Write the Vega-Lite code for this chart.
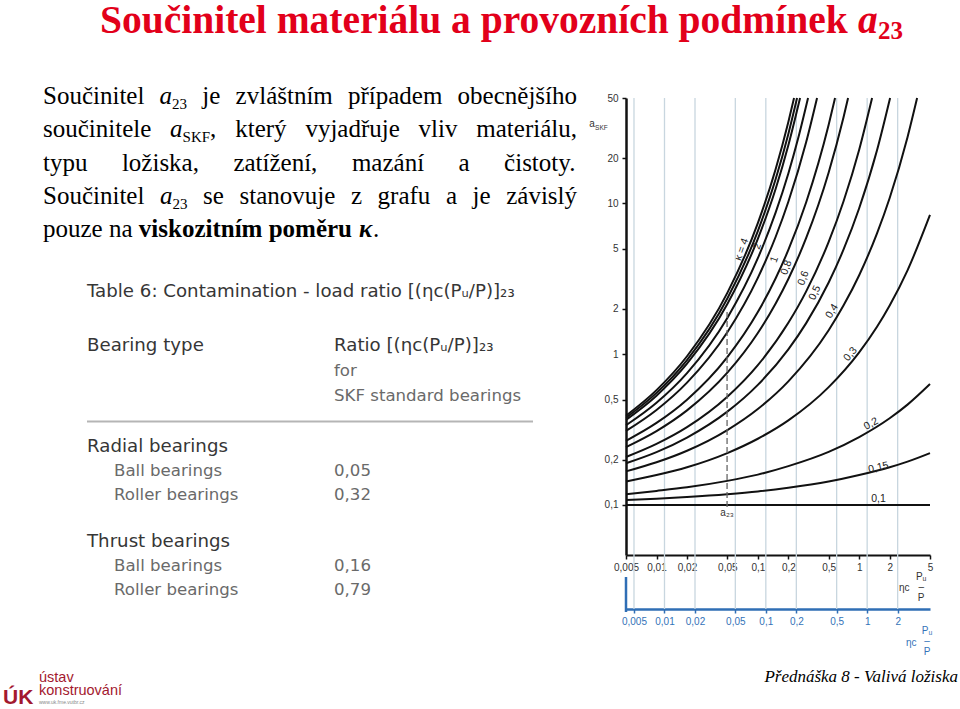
{
  "$schema": "https://vega.github.io/schema/vega-lite/v6.json",
  "width": 960,
  "height": 709,
  "autosize": {"type": "none"},
  "padding": 0,
  "background": "#ffffff",
  "config": {"view": {"stroke": null}, "font": "Liberation Sans"},
  "datasets": {
    "title": [
      {"p": 0, "r": 0, "role": "txt", "text": "Součinitel materiálu a provozních podmínek"},
      {"p": 1, "r": 0, "role": "var", "text": "a"},
      {"p": 2, "r": 0, "role": "sub", "text": "23"}
    ],
    "para": [
      {"line": 1, "p": 10, "role": "txt", "text": "Součinitel"},
      {"line": 1, "p": 11, "role": "var", "text": "a"},
      {"line": 1, "p": 12, "role": "sub", "text": "23"},
      {"line": 1, "p": 13, "role": "txt", "text": "je"},
      {"line": 1, "p": 14, "role": "txt", "text": "zvláštním"},
      {"line": 1, "p": 15, "role": "txt", "text": "případem"},
      {"line": 1, "p": 16, "role": "txt", "text": "obecnějšího"},
      {"line": 2, "p": 20, "role": "txt", "text": "součinitele"},
      {"line": 2, "p": 21, "role": "var", "text": "a"},
      {"line": 2, "p": 22, "role": "sub", "text": "SKF"},
      {"line": 2, "p": 23, "role": "txt", "text": ","},
      {"line": 2, "p": 24, "role": "txt", "text": "který"},
      {"line": 2, "p": 25, "role": "txt", "text": "vyjadřuje"},
      {"line": 2, "p": 26, "role": "txt", "text": "vliv"},
      {"line": 2, "p": 27, "role": "txt", "text": "materiálu,"},
      {"line": 3, "p": 30, "role": "txt", "text": "typu"},
      {"line": 3, "p": 31, "role": "txt", "text": "ložiska,"},
      {"line": 3, "p": 32, "role": "txt", "text": "zatížení,"},
      {"line": 3, "p": 33, "role": "txt", "text": "mazání"},
      {"line": 3, "p": 34, "role": "txt", "text": "a"},
      {"line": 3, "p": 35, "role": "txt", "text": "čistoty."},
      {"line": 4, "p": 40, "role": "txt", "text": "Součinitel"},
      {"line": 4, "p": 41, "role": "var", "text": "a"},
      {"line": 4, "p": 42, "role": "sub", "text": "23"},
      {"line": 4, "p": 43, "role": "txt", "text": "se"},
      {"line": 4, "p": 44, "role": "txt", "text": "stanovuje"},
      {"line": 4, "p": 45, "role": "txt", "text": "z"},
      {"line": 4, "p": 46, "role": "txt", "text": "grafu"},
      {"line": 4, "p": 47, "role": "txt", "text": "a"},
      {"line": 4, "p": 48, "role": "txt", "text": "je"},
      {"line": 4, "p": 49, "role": "txt", "text": "závislý"},
      {"line": 5, "p": 50, "role": "txt", "text": "pouze na"},
      {"line": 5, "p": 51, "role": "em", "text": "viskozitním poměru"},
      {"line": 5, "p": 52, "role": "emvar", "text": "κ"},
      {"line": 5, "p": 53, "role": "txt", "text": "."}
    ],
    "table": [
      {"r": 0, "c": 0, "role": "title", "text": "Table 6: Contamination - load ratio [(ηc(Pᵤ/P)]₂₃"},
      {"r": 1, "c": 0, "role": "head", "text": "Bearing type"},
      {"r": 1, "c": 2, "role": "head", "text": "Ratio [(ηc(Pᵤ/P)]₂₃"},
      {"r": 2, "c": 2, "role": "item", "text": "for"},
      {"r": 3, "c": 2, "role": "item", "text": "SKF standard bearings"},
      {"r": 4, "c": 0, "role": "head", "text": "Radial bearings"},
      {"r": 5, "c": 1, "role": "item", "text": "Ball bearings"},
      {"r": 5, "c": 2, "role": "item", "text": "0,05"},
      {"r": 6, "c": 1, "role": "item", "text": "Roller bearings"},
      {"r": 6, "c": 2, "role": "item", "text": "0,32"},
      {"r": 8, "c": 0, "role": "head", "text": "Thrust bearings"},
      {"r": 9, "c": 1, "role": "item", "text": "Ball bearings"},
      {"r": 9, "c": 2, "role": "item", "text": "0,16"},
      {"r": 10, "c": 1, "role": "item", "text": "Roller bearings"},
      {"r": 10, "c": 2, "role": "item", "text": "0,79"}
    ],
    "footer": [
      {"part": "mark", "c": 0, "r": 2, "text": "ÚK"},
      {"part": "name", "c": 1, "r": 0, "text": "ústav"},
      {"part": "name", "c": 1, "r": 1, "text": "konstruování"},
      {"part": "url", "c": 1, "r": 2, "text": "www.uk.fme.vutbr.cz"},
      {"part": "lecture", "c": 2, "r": 0, "text": "Přednáška 8 - Valivá ložiska"}
    ],
    "bgrid": [{"v": 0.005}, {"v": 0.01}, {"v": 0.02}, {"v": 0.05}, {"v": 0.1}, {"v": 0.2}, {"v": 0.5}, {"v": 1}, {"v": 2}],
    "bstub": [{"v": 0.00417}],
    "dash": [{"x": 0.0497, "a": 0.097, "a2": 1.97}],
    "klab": [
      {"lab": "κ = 4", "k": 4, "x": 0.0695, "a": 4.95},
      {"lab": "2", "k": 2, "x": 0.099, "a": 5.2},
      {"lab": "1", "k": 1, "x": 0.146, "a": 4.25},
      {"lab": "0,8", "k": 0.8, "x": 0.191, "a": 3.75},
      {"lab": "0,6", "k": 0.6, "x": 0.281, "a": 3.2},
      {"lab": "0,5", "k": 0.5, "x": 0.366, "a": 2.55},
      {"lab": "0,4", "k": 0.4, "x": 0.54, "a": 1.93},
      {"lab": "0,3", "k": 0.3, "x": 0.82, "a": 1.0},
      {"lab": "0,2", "k": 0.2, "x": 1.31, "a": 0.345},
      {"lab": "0,15", "k": 0.15, "x": 1.55, "a": 0.177},
      {"lab": "0,1", "k": 0.1, "x": 1.55, "a": 0.109}
    ],
    "annot": [
      {"t": "ηc", "g": "black", "x": 2.78, "a": 0.02816},
      {"t": "Pᵤ", "g": "black", "x": 4.09, "a": 0.0332},
      {"t": "–", "g": "black", "x": 4.09, "a": 0.0286},
      {"t": "P", "g": "black", "x": 4.09, "a": 0.0243},
      {"t": "ηc", "g": "blue", "x": 3.26, "a": 0.01215},
      {"t": "Pᵤ", "g": "blue", "x": 4.68, "a": 0.0146},
      {"t": "–", "g": "blue", "x": 4.68, "a": 0.01245},
      {"t": "P", "g": "blue", "x": 4.68, "a": 0.01065},
      {"t": "a", "g": "black", "x": 0.00231, "a": 33.6},
      {"t": "a₂₃", "g": "black", "x": 0.0497, "a": 0.0885}
    ],
    "annotS": [{"t": "SKF", "x": 0.00286, "a": 31.6}],
    "curves": [
      {"k": "c1", "x": 0.005, "a": 0.391}, {"k": "c1", "x": 0.01, "a": 0.578}, {"k": "c1", "x": 0.02, "a": 0.969}, {"k": "c1", "x": 0.05, "a": 2.549}, {"k": "c1", "x": 0.1, "a": 7.4}, {"k": "c1", "x": 0.15, "a": 16.9}, {"k": "c1", "x": 0.2, "a": 34.7}, {"k": "c1", "x": 0.2277, "a": 50},
      {"k": "c2", "x": 0.005, "a": 0.379}, {"k": "c2", "x": 0.01, "a": 0.554}, {"k": "c2", "x": 0.02, "a": 0.915}, {"k": "c2", "x": 0.05, "a": 2.338}, {"k": "c2", "x": 0.1, "a": 6.55}, {"k": "c2", "x": 0.15, "a": 14.5}, {"k": "c2", "x": 0.2, "a": 28.9}, {"k": "c2", "x": 0.2438, "a": 50},
      {"k": "c3", "x": 0.005, "a": 0.367}, {"k": "c3", "x": 0.01, "a": 0.531}, {"k": "c3", "x": 0.02, "a": 0.865}, {"k": "c3", "x": 0.05, "a": 2.149}, {"k": "c3", "x": 0.1, "a": 5.82}, {"k": "c3", "x": 0.15, "a": 12.5}, {"k": "c3", "x": 0.2, "a": 24.3}, {"k": "c3", "x": 0.261, "a": 50},
      {"k": "c4", "x": 0.005, "a": 0.338}, {"k": "c4", "x": 0.01, "a": 0.477}, {"k": "c4", "x": 0.02, "a": 0.75}, {"k": "c4", "x": 0.05, "a": 1.74}, {"k": "c4", "x": 0.1, "a": 4.33}, {"k": "c4", "x": 0.15, "a": 8.71}, {"k": "c4", "x": 0.2, "a": 15.8}, {"k": "c4", "x": 0.25, "a": 27.0}, {"k": "c4", "x": 0.313, "a": 50},
      {"k": "c5", "x": 0.005, "a": 0.31}, {"k": "c5", "x": 0.01, "a": 0.427}, {"k": "c5", "x": 0.02, "a": 0.648}, {"k": "c5", "x": 0.05, "a": 1.399}, {"k": "c5", "x": 0.1, "a": 3.21}, {"k": "c5", "x": 0.15, "a": 6.01}, {"k": "c5", "x": 0.2, "a": 10.25}, {"k": "c5", "x": 0.3, "a": 25.5}, {"k": "c5", "x": 0.384, "a": 50},
      {"k": "c6", "x": 0.005, "a": 0.2665}, {"k": "c6", "x": 0.01, "a": 0.35}, {"k": "c6", "x": 0.02, "a": 0.499}, {"k": "c6", "x": 0.05, "a": 0.956}, {"k": "c6", "x": 0.1, "a": 1.903}, {"k": "c6", "x": 0.15, "a": 3.19}, {"k": "c6", "x": 0.2, "a": 4.91}, {"k": "c6", "x": 0.3, "a": 10.17}, {"k": "c6", "x": 0.5, "a": 33.2}, {"k": "c6", "x": 0.578, "a": 50},
      {"k": "c7", "x": 0.005, "a": 0.242}, {"k": "c7", "x": 0.01, "a": 0.309}, {"k": "c7", "x": 0.02, "a": 0.424}, {"k": "c7", "x": 0.05, "a": 0.754}, {"k": "c7", "x": 0.1, "a": 1.383}, {"k": "c7", "x": 0.15, "a": 2.17}, {"k": "c7", "x": 0.2, "a": 3.154}, {"k": "c7", "x": 0.3, "a": 5.9}, {"k": "c7", "x": 0.5, "a": 16.05}, {"k": "c7", "x": 0.7, "a": 37.1}, {"k": "c7", "x": 0.777, "a": 50},
      {"k": "c8", "x": 0.005, "a": 0.208}, {"k": "c8", "x": 0.01, "a": 0.254}, {"k": "c8", "x": 0.02, "a": 0.328}, {"k": "c8", "x": 0.05, "a": 0.522}, {"k": "c8", "x": 0.1, "a": 0.846}, {"k": "c8", "x": 0.2, "a": 1.614}, {"k": "c8", "x": 0.3, "a": 2.61}, {"k": "c8", "x": 0.5, "a": 5.56}, {"k": "c8", "x": 0.7, "a": 10.3}, {"k": "c8", "x": 1, "a": 22.7}, {"k": "c8", "x": 1.341, "a": 50},
      {"k": "c9", "x": 0.005, "a": 0.189}, {"k": "c9", "x": 0.01, "a": 0.224}, {"k": "c9", "x": 0.02, "a": 0.28}, {"k": "c9", "x": 0.05, "a": 0.416}, {"k": "c9", "x": 0.1, "a": 0.626}, {"k": "c9", "x": 0.2, "a": 1.077}, {"k": "c9", "x": 0.3, "a": 1.607}, {"k": "c9", "x": 0.5, "a": 2.99}, {"k": "c9", "x": 0.7, "a": 4.93}, {"k": "c9", "x": 1, "a": 9.29}, {"k": "c9", "x": 1.5, "a": 22.5}, {"k": "c9", "x": 2.019, "a": 50},
      {"k": "c10", "x": 0.005, "a": 0.167}, {"k": "c10", "x": 0.01, "a": 0.192}, {"k": "c10", "x": 0.02, "a": 0.229}, {"k": "c10", "x": 0.05, "a": 0.314}, {"k": "c10", "x": 0.1, "a": 0.433}, {"k": "c10", "x": 0.2, "a": 0.661}, {"k": "c10", "x": 0.5, "a": 1.442}, {"k": "c10", "x": 0.7, "a": 2.1}, {"k": "c10", "x": 1, "a": 3.34}, {"k": "c10", "x": 1.5, "a": 6.33}, {"k": "c10", "x": 2, "a": 10.87}, {"k": "c10", "x": 3, "a": 27.5}, {"k": "c10", "x": 3.73, "a": 50},
      {"k": "c11", "x": 0.005, "a": 0.143}, {"k": "c11", "x": 0.01, "a": 0.158}, {"k": "c11", "x": 0.02, "a": 0.178}, {"k": "c11", "x": 0.05, "a": 0.221}, {"k": "c11", "x": 0.1, "a": 0.275}, {"k": "c11", "x": 0.2, "a": 0.364}, {"k": "c11", "x": 0.5, "a": 0.605}, {"k": "c11", "x": 1, "a": 1.029}, {"k": "c11", "x": 1.5, "a": 1.52}, {"k": "c11", "x": 2, "a": 2.104}, {"k": "c11", "x": 3, "a": 3.6}, {"k": "c11", "x": 5, "a": 8.4},
      {"k": "c12", "x": 0.005, "a": 0.118}, {"k": "c12", "x": 0.01, "a": 0.124}, {"k": "c12", "x": 0.02, "a": 0.131}, {"k": "c12", "x": 0.05, "a": 0.1445}, {"k": "c12", "x": 0.1, "a": 0.159}, {"k": "c12", "x": 0.2, "a": 0.181}, {"k": "c12", "x": 0.5, "a": 0.225}, {"k": "c12", "x": 1, "a": 0.282}, {"k": "c12", "x": 2, "a": 0.376}, {"k": "c12", "x": 3, "a": 0.463}, {"k": "c12", "x": 5, "a": 0.634},
      {"k": "c13", "x": 0.005, "a": 0.108}, {"k": "c13", "x": 0.01, "a": 0.11}, {"k": "c13", "x": 0.02, "a": 0.113}, {"k": "c13", "x": 0.05, "a": 0.118}, {"k": "c13", "x": 0.1, "a": 0.123}, {"k": "c13", "x": 0.2, "a": 0.13}, {"k": "c13", "x": 0.5, "a": 0.143}, {"k": "c13", "x": 1, "a": 0.158}, {"k": "c13", "x": 2, "a": 0.178}, {"k": "c13", "x": 3, "a": 0.194}, {"k": "c13", "x": 5, "a": 0.221},
      {"k": "c14", "x": 0.005, "a": 0.1}, {"k": "c14", "x": 5, "a": 0.1}
    ]
  },
  "layer": [
    {
      "data": {"name": "title"},
      "encoding": {
        "x": {"field": "p", "type": "quantitative", "scale": {"domain": [0, 1, 2], "range": [100, 858, 878], "nice": false, "zero": false}, "axis": null},
        "y": {"field": "r", "type": "quantitative", "scale": {"domain": [0, 1], "range": [33, 60], "nice": false, "zero": false}, "axis": null},
        "text": {"field": "text"}
      },
      "layer": [
        {"transform": [{"filter": "datum.role == 'txt'"}], "mark": {"type": "text", "font": "Liberation Serif", "fontWeight": "bold", "fontSize": 39.5, "color": "#E2001A", "align": "left", "baseline": "alphabetic"}},
        {"transform": [{"filter": "datum.role == 'var'"}], "mark": {"type": "text", "font": "Liberation Serif", "fontWeight": "bold", "fontStyle": "italic", "fontSize": 39.5, "color": "#E2001A", "align": "left", "baseline": "alphabetic"}},
        {"transform": [{"filter": "datum.role == 'sub'"}], "mark": {"type": "text", "font": "Liberation Serif", "fontWeight": "bold", "fontSize": 25, "dy": 6, "color": "#E2001A", "align": "left", "baseline": "alphabetic"}}
      ]
    },
    {
      "data": {"name": "para"},
      "encoding": {
        "x": {"field": "p", "type": "quantitative", "scale": {
          "domain": [10, 11, 12, 13, 14, 15, 16, 20, 21, 22, 23, 24, 25, 26, 27, 30, 31, 32, 33, 34, 35, 40, 41, 42, 43, 44, 45, 46, 47, 48, 49, 50, 51, 52, 53],
          "range": [43, 159.6, 172.1, 202.3, 235.6, 348.0, 457.6, 43, 170.1, 182.6, 210.1, 235.2, 305.4, 418.6, 476.3, 43, 121.9, 233.4, 351.9, 458.5, 504.1, 43, 160.0, 172.5, 203.1, 239.5, 350.9, 377.6, 445.9, 472.6, 506.2, 43, 138.8, 359, 373],
          "nice": false, "zero": false}, "axis": null},
        "y": {"field": "line", "type": "quantitative", "scale": {"domain": [1, 5], "range": [104, 237], "nice": false, "zero": false}, "axis": null},
        "text": {"field": "text"}
      },
      "layer": [
        {"transform": [{"filter": "datum.role == 'txt'"}], "mark": {"type": "text", "font": "Liberation Serif", "fontSize": 25, "color": "#000000", "align": "left", "baseline": "alphabetic"}},
        {"transform": [{"filter": "datum.role == 'var'"}], "mark": {"type": "text", "font": "Liberation Serif", "fontStyle": "italic", "fontSize": 25, "color": "#000000", "align": "left", "baseline": "alphabetic"}},
        {"transform": [{"filter": "datum.role == 'sub'"}], "mark": {"type": "text", "font": "Liberation Serif", "fontSize": 15, "dy": 5, "color": "#000000", "align": "left", "baseline": "alphabetic"}},
        {"transform": [{"filter": "datum.role == 'em'"}], "mark": {"type": "text", "font": "Liberation Serif", "fontWeight": "bold", "fontSize": 25, "color": "#000000", "align": "left", "baseline": "alphabetic"}},
        {"transform": [{"filter": "datum.role == 'emvar'"}], "mark": {"type": "text", "font": "Liberation Serif", "fontWeight": "bold", "fontStyle": "italic", "fontSize": 25, "color": "#000000", "align": "left", "baseline": "alphabetic"}}
      ]
    },
    {
      "data": {"name": "table"},
      "encoding": {
        "x": {"field": "c", "type": "quantitative", "scale": {"domain": [0, 1, 2, 3], "range": [87, 114, 334, 533], "nice": false, "zero": false}, "axis": null},
        "y": {"field": "r", "type": "quantitative", "scale": {"domain": [0, 1, 3, 4, 10], "range": [292, 346, 396, 447, 590], "nice": false, "zero": false}, "axis": null},
        "text": {"field": "text"}
      },
      "layer": [
        {
          "transform": [{"filter": "datum.role != 'item'"}],
          "mark": {"type": "text", "font": "DejaVu Sans", "fontSize": 18.2, "color": "#363636", "align": "left", "baseline": "middle"}
        },
        {
          "transform": [{"filter": "datum.role == 'item'"}],
          "mark": {"type": "text", "font": "DejaVu Sans", "fontSize": 16.6, "color": "#6a6a6a", "align": "left", "baseline": "middle"}
        },
        {
          "data": {"values": [{"c": 0, "c2": 3, "r": 3.5}]},
          "mark": {"type": "rule", "color": "#b5b5b5", "strokeWidth": 2},
          "encoding": {"x2": {"field": "c2"}, "text": null}
        }
      ]
    },
    {
      "data": {"name": "footer"},
      "encoding": {
        "x": {"field": "c", "type": "quantitative", "scale": {"domain": [0, 1, 2], "range": [3, 39, 958], "nice": false, "zero": false}, "axis": null},
        "y": {"field": "r", "type": "quantitative", "scale": {"domain": [0, 1, 2], "range": [682, 695, 704], "nice": false, "zero": false}, "axis": null},
        "text": {"field": "text"}
      },
      "layer": [
        {"transform": [{"filter": "datum.part == 'mark'"}], "mark": {"type": "text", "font": "Liberation Sans", "fontWeight": "bold", "fontSize": 21, "color": "#a3192f", "align": "left", "baseline": "alphabetic"}},
        {"transform": [{"filter": "datum.part == 'name'"}], "mark": {"type": "text", "font": "Liberation Sans", "fontSize": 14.5, "color": "#a3192f", "align": "left", "baseline": "alphabetic"}},
        {"transform": [{"filter": "datum.part == 'url'"}], "mark": {"type": "text", "font": "Liberation Sans", "fontSize": 5, "color": "#888888", "align": "left", "baseline": "alphabetic"}},
        {"transform": [{"filter": "datum.part == 'lecture'"}], "mark": {"type": "text", "font": "Liberation Serif", "fontStyle": "italic", "fontSize": 17, "color": "#000000", "align": "right", "baseline": "alphabetic"}}
      ]
    },
    {
      "encoding": {
        "x": {
          "field": "v", "type": "quantitative",
          "scale": {"type": "log", "domain": [0.00417, 4.17], "range": [626, 930], "nice": false},
          "axis": {"orient": "bottom", "offset": -100, "values": [0.005, 0.01, 0.02, 0.05, 0.1, 0.2, 0.5, 1, 2], "labelExpr": "replace(format(datum.value, '~g'), '.', ',')", "title": null, "grid": false, "domainColor": "#2f6eb5", "domainWidth": 2.5, "tickColor": "#2f6eb5", "tickSize": 4, "tickWidth": 1.5, "labelColor": "#3473b8", "labelFont": "Liberation Sans", "labelFontSize": 10, "labelPadding": 3, "labelOverlap": false, "labelFlush": false}
        }
      },
      "layer": [
        {
          "data": {"name": "bgrid"},
          "mark": {"type": "rule", "color": "#c8d6df", "strokeWidth": 1.3},
          "encoding": {
            "y": {"datum": 50, "type": "quantitative", "scale": {"type": "log", "domain": [0.0466, 50], "range": [555, 98], "nice": false}, "axis": null},
            "y2": {"datum": 0.02043}
          }
        },
        {
          "data": {"name": "bstub"},
          "mark": {"type": "rule", "color": "#2f6eb5", "strokeWidth": 2.5},
          "encoding": {
            "y": {"datum": 0.0333, "type": "quantitative", "scale": {"type": "log", "domain": [0.0466, 50], "range": [555, 98], "nice": false}, "axis": null},
            "y2": {"datum": 0.01952}
          }
        }
      ]
    },
    {
      "encoding": {
        "x": {
          "field": "x", "type": "quantitative",
          "scale": {"type": "log", "domain": [0.005, 5], "range": [626, 930], "nice": false},
          "axis": {"orient": "bottom", "offset": -154, "values": [0.005, 0.01, 0.02, 0.05, 0.1, 0.2, 0.5, 1, 2, 5], "labelExpr": "replace(format(datum.value, '~g'), '.', ',')", "title": null, "grid": false, "domainColor": "#111111", "domainWidth": 2, "tickColor": "#111111", "tickSize": 4, "tickWidth": 1.5, "labelColor": "#333333", "labelFont": "Liberation Sans", "labelFontSize": 10, "labelPadding": 3, "labelOverlap": false, "labelFlush": false}
        },
        "y": {
          "field": "a", "type": "quantitative",
          "scale": {"type": "log", "domain": [0.0466, 50], "range": [555, 98], "nice": false},
          "axis": {"orient": "left", "offset": -626, "values": [0.1, 0.2, 0.5, 1, 2, 5, 10, 20, 50], "labelExpr": "replace(format(datum.value, '~g'), '.', ',')", "title": null, "grid": false, "domainColor": "#111111", "domainWidth": 2.5, "tickColor": "#111111", "tickSize": 4, "tickWidth": 1.5, "labelColor": "#333333", "labelFont": "Liberation Sans", "labelFontSize": 10, "labelPadding": 4, "labelOverlap": false, "labelFlush": false}
        }
      },
      "layer": [
        {
          "data": {"name": "curves"},
          "mark": {"type": "line", "color": "#111111", "strokeWidth": 2, "interpolate": "monotone"},
          "encoding": {"detail": {"field": "k"}}
        },
        {
          "data": {"name": "dash"},
          "mark": {"type": "rule", "color": "#666666", "strokeWidth": 1.3, "strokeDash": [6, 3]},
          "encoding": {"y2": {"field": "a2"}}
        },
        {
          "data": {"name": "klab"},
          "mark": {"type": "text", "font": "Liberation Sans", "fontSize": 10.5, "color": "#222222"},
          "encoding": {
            "text": {"field": "lab"},
            "angle": {"field": "k", "type": "quantitative", "scale": {"domain": [0.1, 0.15, 0.2, 0.3, 0.4, 0.5, 0.6, 4], "range": [360, 348, 332, 310, 302, 295, 290, 290]}, "legend": null}
          }
        },
        {
          "data": {"name": "annot"},
          "mark": {"type": "text", "font": "Liberation Sans", "fontSize": 10},
          "encoding": {
            "text": {"field": "t"},
            "color": {"field": "g", "type": "nominal", "scale": {"domain": ["black", "blue"], "range": ["#333333", "#3473b8"]}, "legend": null}
          }
        },
        {
          "data": {"name": "annotS"},
          "mark": {"type": "text", "font": "Liberation Sans", "fontSize": 6.5, "color": "#333333"},
          "encoding": {"text": {"field": "t"}}
        }
      ]
    }
  ],
  "resolve": {
    "scale": {"x": "independent", "y": "independent", "color": "independent", "angle": "independent"},
    "axis": {"x": "independent", "y": "independent"}
  }
}
